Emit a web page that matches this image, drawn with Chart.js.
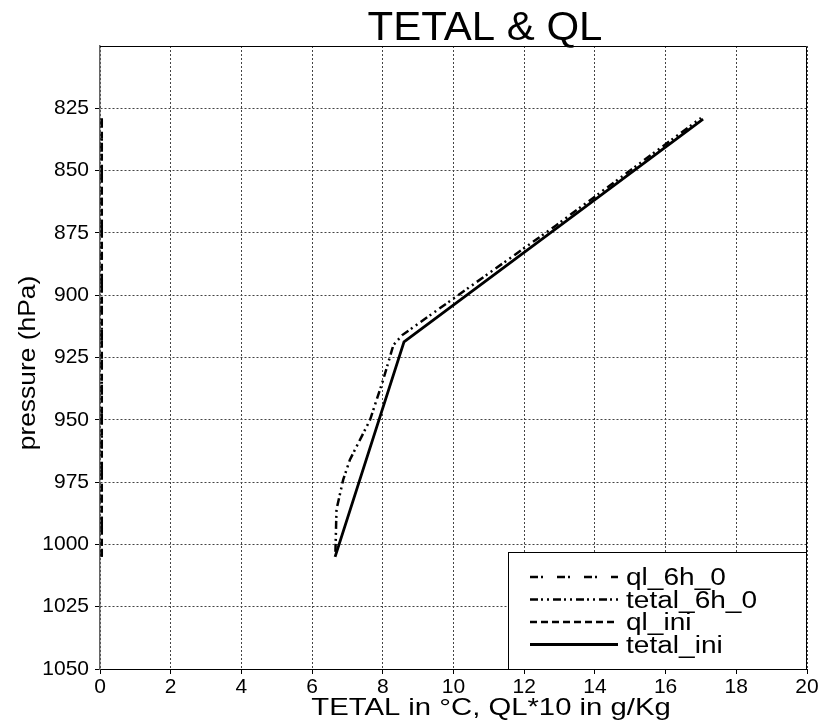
<!DOCTYPE html>
<html>
<head>
<meta charset="utf-8">
<script src="https://cdn.jsdelivr.net/npm/chart.js@4"></script>
<style>
  html, body { margin: 0; padding: 0; background: #fff; }
  #graficoTetal { display: block; }
</style>
</head>
<body>
<canvas id="graficoTetal" width="825" height="727"></canvas>
<script>
// profils verticaux : pression (hPa) et valeur
const niveauxTetalIni = [1005, 918.7, 829.3];
const tetalIni = [6.65, 8.6, 17.06];

const niveauxTetal6h = [1003, 986, 974, 966, 950, 934, 920, 916, 872, 828.9];
const tetal6h = [6.66, 6.69, 6.88, 7.07, 7.64, 8.01, 8.3, 8.55, 12.9, 17.0];

const niveauxQl = [1005, 975, 950, 925, 900, 875, 850, 829];
const qlIni = [0.05, 0.05, 0.05, 0.05, 0.05, 0.05, 0.05, 0.05];
const ql6h = [0.05, 0.05, 0.05, 0.05, 0.05, 0.05, 0.05, 0.05];

const ticksPression = [825, 850, 875, 900, 925, 950, 975, 1000, 1025, 1050];

const titre = "TETAL & QL";
const titreX = "TETAL in °C, QL*10 in g/Kg";
const titreY = "pressure (hPa)";

const police = '"Liberation Sans", Arial, sans-serif';

function points(xs, ps) {
  return xs.map((v, i) => ({ x: v, y: ps[i] }));
}

// texte élargi horizontalement, comme la sortie d'origine
function texteEtire(ctx, txt, x, y, taille, etirement, angle) {
  ctx.save();
  ctx.translate(x, y);
  if (angle) ctx.rotate(angle);
  ctx.scale(etirement, 1);
  ctx.font = taille + "px " + police;
  ctx.fillText(txt, 0, 0);
  ctx.restore();
}

const decor = {
  id: "decor",
  afterDraw(chart) {
    const { ctx, chartArea: a } = chart;
    ctx.save();

    // cadre haut et droit
    ctx.strokeStyle = "#000";
    ctx.lineWidth = 1;
    ctx.setLineDash([]);
    ctx.beginPath();
    ctx.moveTo(a.left, a.top + 0.5);
    ctx.lineTo(a.right - 0.5, a.top + 0.5);
    ctx.lineTo(a.right - 0.5, a.bottom);
    ctx.stroke();

    ctx.fillStyle = "#000";
    ctx.textBaseline = "alphabetic";
    ctx.textAlign = "center";
    texteEtire(ctx, titre, 485, 40, 40, 1.05);
    texteEtire(ctx, titreX, 491, 715, 24, 1.22);
    texteEtire(ctx, titreY, 35, 363, 24, 1.1, -Math.PI / 2);

    // légende en bas à droite
    const lx = 508, ly = 552, lw = a.right - 508, lh = a.bottom - 552;
    ctx.fillStyle = "#fff";
    ctx.fillRect(lx, ly, lw, lh);
    ctx.strokeStyle = "#000";
    ctx.lineWidth = 1;
    ctx.strokeRect(lx + 0.5, ly + 0.5, lw - 1, lh);

    ctx.textAlign = "left";
    chart.data.datasets.forEach((ds, i) => {
      const yl = 577 + i * 22.5;
      ctx.strokeStyle = "#000";
      ctx.lineWidth = ds.borderWidth;
      ctx.setLineDash(ds.borderDash || []);
      ctx.beginPath();
      ctx.moveTo(530, yl);
      ctx.lineTo(618, yl);
      ctx.stroke();
      ctx.setLineDash([]);
      ctx.fillStyle = "#000";
      texteEtire(ctx, ds.label, 626, yl + 8, 23, 1.22);
    });

    ctx.restore();
  }
};

const ctx = document.getElementById("graficoTetal").getContext("2d");

new Chart(ctx, {
  type: "line",
  data: {
    datasets: [
      {
        label: "ql_6h_0",
        data: points(ql6h, niveauxQl),
        borderColor: "#000",
        borderWidth: 2.5,
        borderDash: [8, 3, 2, 14],
        clip: false
      },
      {
        label: "tetal_6h_0",
        data: points(tetal6h, niveauxTetal6h),
        borderColor: "#000",
        borderWidth: 2.5,
        borderDash: [8, 3, 2, 4, 2, 4]
      },
      {
        label: "ql_ini",
        data: points(qlIni, niveauxQl),
        borderColor: "#000",
        borderWidth: 2.5,
        borderDash: [7, 4],
        clip: false
      },
      {
        label: "tetal_ini",
        data: points(tetalIni, niveauxTetalIni),
        borderColor: "#000",
        borderWidth: 2.8
      }
    ]
  },
  options: {
    responsive: false,
    animation: false,
    events: [],
    elements: {
      point: { radius: 0 },
      line: { tension: 0, fill: false }
    },
    layout: {
      padding: { top: 46, right: 18, left: 0, bottom: 0 }
    },
    plugins: {
      legend: { display: false },
      title: { display: false },
      tooltip: { enabled: false }
    },
    scales: {
      x: {
        type: "linear",
        min: 0,
        max: 20,
        ticks: {
          stepSize: 2,
          color: "#000",
          padding: 1,
          maxRotation: 0,
          font: { family: police, size: 21 }
        },
        grid: {
          color: "#444",
          lineWidth: 1,
          tickLength: 5,
          tickColor: "#000",
          tickBorderDash: []
        },
        border: { color: "#000", width: 1, dash: [2, 2] },
        afterFit(scale) { scale.height = 58; }
      },
      y: {
        type: "linear",
        reverse: true,
        min: 800,
        max: 1050,
        afterBuildTicks(scale) {
          scale.ticks = ticksPression.map(v => ({ value: v }));
        },
        ticks: {
          color: "#000",
          padding: 6,
          font: { family: police, size: 21 },
          callback: v => String(v)
        },
        grid: {
          color: "#444",
          lineWidth: 1,
          tickLength: 5,
          tickColor: "#000",
          tickBorderDash: []
        },
        border: { color: "#666", width: 1.5, dash: [2, 2] },
        afterFit(scale) { scale.width = 100; }
      }
    }
  },
  plugins: [decor]
});
</script>
</body>
</html>
